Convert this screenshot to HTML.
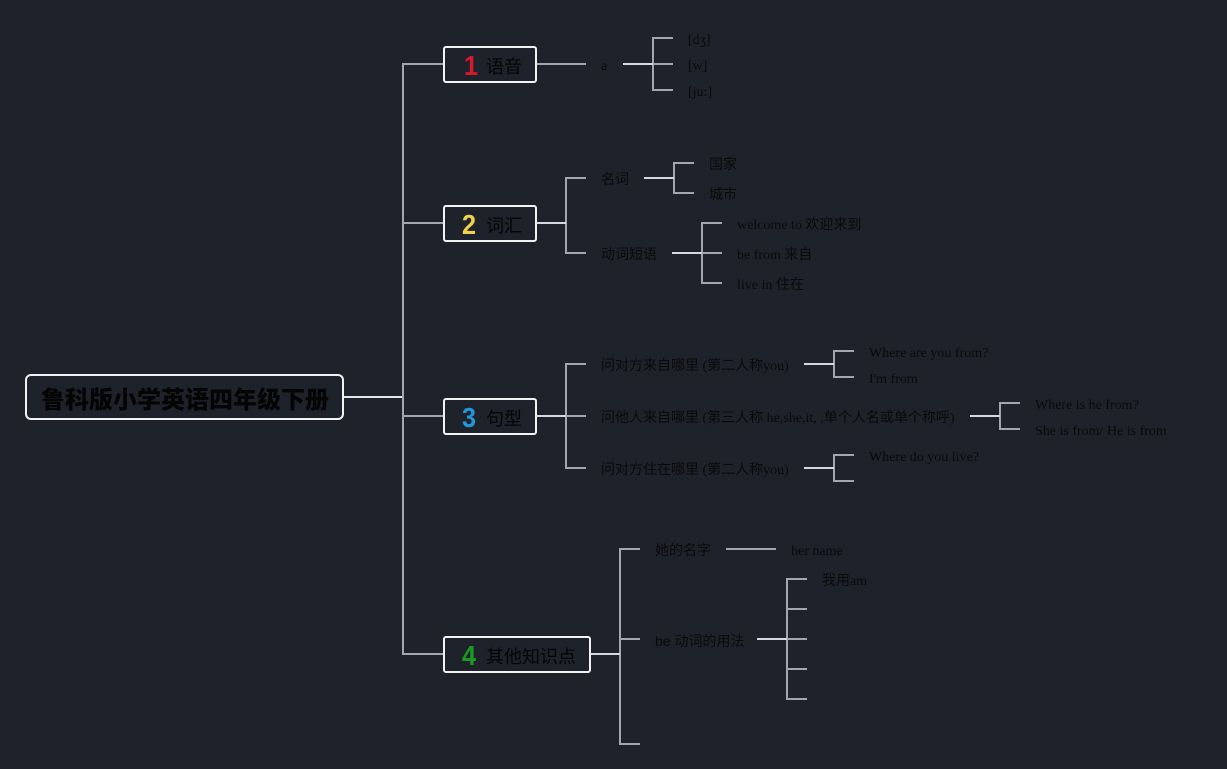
<!DOCTYPE html>
<html><head><meta charset="utf-8">
<style>
html,body{margin:0;padding:0;}
body{width:1227px;height:769px;background:#1e222b;position:relative;overflow:hidden;}
svg{position:absolute;left:0;top:0;}
.t{position:absolute;white-space:nowrap;color:#0a0a0a;font-family:"Liberation Serif","Noto Sans CJK SC",serif;font-size:14px;line-height:20px;}
.s{font-family:"Liberation Sans","Noto Sans CJK SC",sans-serif;}
.box{position:absolute;box-sizing:border-box;border:2px solid #f2f2f2;border-radius:3px;height:37px;}
.bt{position:absolute;top:8px;left:41px;font-family:"Noto Sans CJK SC",sans-serif;font-size:18px;line-height:20px;color:#050505;white-space:nowrap;font-weight:400;}
.num{position:absolute;top:2px;left:17px;font-family:"Liberation Sans",sans-serif;font-weight:bold;font-size:28px;line-height:32px;transform:scaleX(0.9);transform-origin:left center;}
.root{position:absolute;left:25px;top:374px;width:319px;height:46px;box-sizing:border-box;border:2px solid #f2f2f2;border-radius:6px;}
.root span{position:absolute;left:14px;top:8px;font-family:"Noto Sans CJK SC",sans-serif;font-weight:900;font-size:24px;line-height:28px;color:#050505;white-space:nowrap;}
</style></head><body>
<svg width="1227" height="769" viewBox="0 0 1227 769" fill="none" stroke-width="2">
<g stroke="#e4e6ea">
<line x1="343" y1="397" x2="403" y2="397"/>
</g>
<g stroke="#a2a6ae">
<polyline points="443,64 403,64 403,654 443,654"/>
<line x1="403" y1="223" x2="443" y2="223"/>
<line x1="403" y1="416" x2="443" y2="416"/>
<line x1="536" y1="64" x2="586" y2="64"/>
<polyline points="673,38 653,38 653,90 673,90"/>
<line x1="653" y1="64" x2="673" y2="64"/>
<polyline points="586,178 566,178 566,253 586,253"/>
<polyline points="694,163 674,163 674,193 694,193"/>
<polyline points="722,223 702,223 702,283 722,283"/>
<line x1="702" y1="253" x2="722" y2="253"/>
<polyline points="586,364 566,364 566,468 586,468"/>
<line x1="566" y1="416" x2="586" y2="416"/>
<polyline points="854,351 834,351 834,377 854,377"/>
<polyline points="1020,403 1000,403 1000,429 1020,429"/>
<polyline points="854,455 834,455 834,481 854,481"/>
<polyline points="640,549 620,549 620,744 640,744"/>
<line x1="620" y1="639" x2="640" y2="639"/>
<line x1="726" y1="549" x2="776" y2="549"/>
<polyline points="807,579 787,579 787,699 807,699"/>
<line x1="787" y1="609" x2="807" y2="609"/>
<line x1="787" y1="639" x2="807" y2="639"/>
<line x1="787" y1="669" x2="807" y2="669"/>
</g>
<g stroke="#d6d9df">
<line x1="536" y1="223" x2="566" y2="223"/>
<line x1="536" y1="416" x2="566" y2="416"/>
<line x1="590" y1="654" x2="620" y2="654"/>
<line x1="623" y1="64" x2="653" y2="64"/>
<line x1="644" y1="178" x2="674" y2="178"/>
<line x1="672" y1="253" x2="702" y2="253"/>
<line x1="804" y1="364" x2="834" y2="364"/>
<line x1="970" y1="416" x2="1000" y2="416"/>
<line x1="804" y1="468" x2="834" y2="468"/>
<line x1="757" y1="639" x2="787" y2="639"/>
</g>
</svg>

<div class="root"><span>鲁科版小学英语四年级下册</span></div>

<div class="box" style="left:443px;top:46px;width:94px;"><span class="num" style="color:#d8192a;left:19px;">1</span><span class="bt">语音</span></div>
<div class="box" style="left:443px;top:205px;width:94px;"><span class="num" style="color:#f0d24a;">2</span><span class="bt">词汇</span></div>
<div class="box" style="left:443px;top:398px;width:94px;"><span class="num" style="color:#2196d8;">3</span><span class="bt">句型</span></div>
<div class="box" style="left:443px;top:636px;width:148px;"><span class="num" style="color:#1c9a26;">4</span><span class="bt">其他知识点</span></div>

<div class="t" style="left:601px;top:57px;">a</div>
<div class="t" style="left:688px;top:31px;">[dʒ]</div>
<div class="t" style="left:688px;top:57px;">[w]</div>
<div class="t" style="left:688px;top:83px;">[ju:]</div>

<div class="t" style="left:601px;top:171px;">名词</div>
<div class="t" style="left:601px;top:246px;">动词短语</div>
<div class="t" style="left:709px;top:156px;">国家</div>
<div class="t" style="left:709px;top:186px;">城市</div>
<div class="t" style="left:737px;top:216px;">welcome to 欢迎来到</div>
<div class="t" style="left:737px;top:246px;">be from 来自</div>
<div class="t" style="left:737px;top:276px;">live in 住在</div>

<div class="t" style="left:601px;top:357px;">问对方来自哪里 (第二人称you)</div>
<div class="t" style="left:601px;top:409px;">问他人来自哪里 (第三人称 he,she,it, ,单个人名或单个称呼)</div>
<div class="t" style="left:601px;top:461px;">问对方住在哪里 (第二人称you)</div>
<div class="t" style="left:869px;top:344px;">Where are you from?</div>
<div class="t" style="left:869px;top:370px;">I'm from</div>
<div class="t" style="left:1035px;top:396px;">Where is he from?</div>
<div class="t" style="left:1035px;top:422px;">She is from/ He is from</div>
<div class="t" style="left:869px;top:448px;">Where do you live?</div>

<div class="t" style="left:655px;top:542px;">她的名字</div>
<div class="t s" style="left:655px;top:631px;">be 动词的用法</div>
<div class="t" style="left:791px;top:542px;">her name</div>
<div class="t" style="left:822px;top:572px;">我用am</div>
</body></html>
